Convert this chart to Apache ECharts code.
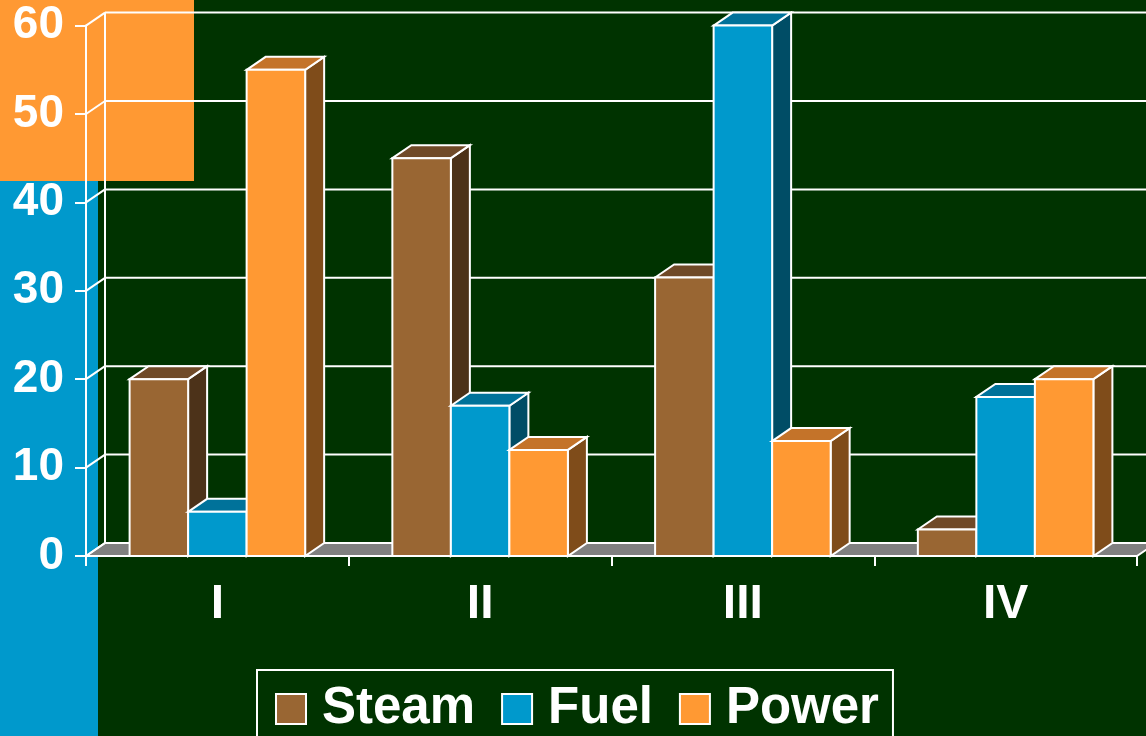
<!DOCTYPE html>
<html>
<head>
<meta charset="utf-8">
<script src="https://cdn.jsdelivr.net/npm/echarts@6/dist/echarts.min.js"></script>
<style>
  html, body { margin: 0; padding: 0; background: #003300; }
  #chart { width: 1146px; height: 736px; }
</style>
</head>
<body>
<div id="chart"></div>
<script>
// Quarterly values for each energy type
const categories = ['I', 'II', 'III', 'IV'];
const seriesNames = ['Steam', 'Fuel', 'Power'];
const steam = [20, 45, 31.5, 3];
const fuel = [5, 17, 60, 18];
const power = [55, 12, 13, 20];
const yTicks = [0, 10, 20, 30, 40, 50, 60];

// front / top / side shades of each box
const palette = [
  { front: '#996633', top: '#704A28', side: '#4C3219' },
  { front: '#0099CC', top: '#00729A', side: '#004D66' },
  { front: '#FF9933', top: '#C47329', side: '#7F4C1A' }
];

const FONT = '"Liberation Sans", Arial, Helvetica, sans-serif';
const DEPTH_X = 19;   // receding offset of the 3D walls
const DEPTH_Y = 13;
const BAR_SHARE = 0.2227; // each box's width as a share of a category band

const chart = echarts.init(document.getElementById('chart'));

// back wall, left wall, grid lines and floor
function renderWall(params, api) {
  const cs = params.coordSys;
  const v = api.value(1);
  const p = api.coord([0, v]);
  const y = p[1];
  const left = cs.x;
  const right = cs.x + cs.width;
  const children = [];
  if (v === yTicks[0]) {
    children.push({
      type: 'polygon',
      shape: { points: [[left, y], [left + DEPTH_X, y - DEPTH_Y], [right + DEPTH_X, y - DEPTH_Y], [right, y]] },
      style: { fill: '#808080', stroke: '#ffffff', lineWidth: 2 }
    });
    const topY = api.coord([0, yTicks[yTicks.length - 1]])[1];
    children.push({
      type: 'line',
      shape: { x1: left + DEPTH_X, y1: y - DEPTH_Y, x2: left + DEPTH_X, y2: topY - DEPTH_Y },
      style: { stroke: '#ffffff', lineWidth: 2 }
    });
  } else {
    children.push({
      type: 'line',
      shape: { x1: left + DEPTH_X, y1: y - DEPTH_Y, x2: right + DEPTH_X, y2: y - DEPTH_Y },
      style: { stroke: '#ffffff', lineWidth: 2 }
    });
  }
  children.push({
    type: 'line',
    shape: { x1: left, y1: y, x2: left + DEPTH_X, y2: y - DEPTH_Y },
    style: { stroke: '#ffffff', lineWidth: 2 }
  });
  return { type: 'group', children: children };
}

// a 3D box for one value of one series
function boxRenderer(idx) {
  return function (params, api) {
    const cat = api.value(0);
    const val = api.value(1);
    const base = api.coord([cat, 0]);
    const top = api.coord([cat, val]);
    const band = api.size([1, 0])[0];
    const bw = band * BAR_SHARE;
    const x0 = base[0] - 1.5 * bw + idx * bw;
    const x1 = x0 + bw;
    const ty = top[1];
    const by = base[1];
    const c = palette[idx];
    const stroke = { stroke: '#ffffff', lineWidth: 2, lineJoin: 'miter' };
    return {
      type: 'group',
      children: [
        {
          type: 'polygon',
          shape: { points: [[x1, ty], [x1 + DEPTH_X, ty - DEPTH_Y], [x1 + DEPTH_X, by - DEPTH_Y], [x1, by]] },
          style: Object.assign({ fill: c.side }, stroke)
        },
        {
          type: 'polygon',
          shape: { points: [[x0, ty], [x0 + DEPTH_X, ty - DEPTH_Y], [x1 + DEPTH_X, ty - DEPTH_Y], [x1, ty]] },
          style: Object.assign({ fill: c.top }, stroke)
        },
        {
          type: 'rect',
          shape: { x: x0, y: ty, width: bw, height: by - ty },
          style: Object.assign({ fill: c.front }, stroke)
        }
      ]
    };
  };
}

const values = [steam, fuel, power];
const boxSeries = seriesNames.map(function (name, i) {
  return {
    name: name,
    type: 'custom',
    clip: false,
    renderItem: boxRenderer(i),
    itemStyle: { color: palette[i].front },
    encode: { x: 0, y: 1 },
    data: values[i].map(function (v, k) { return [k, v]; })
  };
});

const option = {
  backgroundColor: '#003300',
  animation: false,
  graphic: {
    elements: [
      { type: 'rect', z: -10, shape: { x: 0, y: 0, width: 98, height: 736 }, style: { fill: '#0099CC' } },
      { type: 'rect', z: -9, shape: { x: 0, y: 0, width: 194, height: 181 }, style: { fill: '#FF9933' } }
    ]
  },
  grid: { left: 86, right: 9, top: 25.6, bottom: 180, containLabel: false },
  legend: {
    data: seriesNames,
    left: 257,
    top: 670,
    orient: 'horizontal',
    icon: 'rect',
    itemWidth: 30,
    itemHeight: 30,
    itemGap: 26,
    padding: [13, 14, 40, 18],
    borderColor: '#ffffff',
    borderWidth: 2,
    itemStyle: { borderColor: '#ffffff', borderWidth: 2 },
    textStyle: {
      color: '#ffffff',
      fontFamily: FONT,
      fontWeight: 'bold',
      fontSize: 51,
      lineHeight: 52,
      padding: [0, 0, 0, 11]
    }
  },
  xAxis: {
    type: 'category',
    data: categories,
    boundaryGap: true,
    axisLine: { show: true, lineStyle: { color: '#ffffff', width: 2 } },
    axisTick: { show: true, length: 10, lineStyle: { color: '#ffffff', width: 2 } },
    axisLabel: {
      color: '#ffffff',
      fontFamily: FONT,
      fontWeight: 'bold',
      fontSize: 48,
      lineHeight: 48,
      margin: 25
    },
    splitLine: { show: false }
  },
  yAxis: {
    type: 'value',
    min: 0,
    max: 60,
    interval: 10,
    axisLine: { show: true, lineStyle: { color: '#ffffff', width: 2 } },
    axisTick: { show: true, length: 11, lineStyle: { color: '#ffffff', width: 2 } },
    axisLabel: {
      color: '#ffffff',
      fontFamily: FONT,
      fontWeight: 'bold',
      fontSize: 46,
      margin: 22,
      padding: [7, 0, 0, 0],
      formatter: function (v) { return yTicks.indexOf(v) >= 0 ? String(v) : ''; }
    },
    splitLine: { show: false }
  },
  series: [
    {
      name: 'wall',
      type: 'custom',
      clip: false,
      silent: true,
      renderItem: renderWall,
      encode: { x: 0, y: 1 },
      data: yTicks.map(function (v) { return [0, v]; })
    }
  ].concat(boxSeries)
};

chart.setOption(option);
</script>
</body>
</html>
